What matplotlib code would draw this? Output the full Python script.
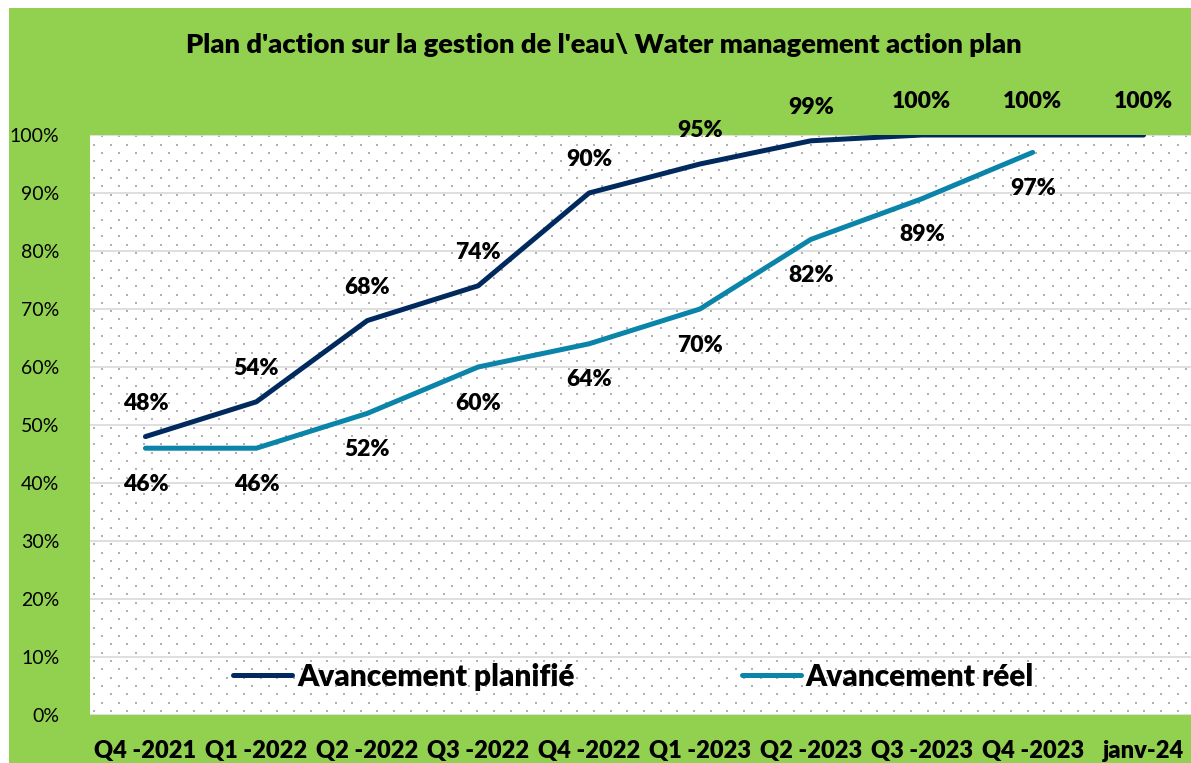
import numpy as np
import matplotlib
matplotlib.use('Agg')
import matplotlib.pyplot as plt
from matplotlib.patches import Rectangle

# -----------------------------
# Data
# -----------------------------
periods = ["Q4 -2021", "Q1 -2022", "Q2 -2022", "Q3 -2022", "Q4 -2022",
           "Q1 -2023", "Q2 -2023", "Q3 -2023", "Q4 -2023", "janv-24"]
planned = [48, 54, 68, 74, 90, 95, 99, 100, 100, 100]
actual = [46, 46, 52, 60, 64, 70, 82, 89, 97]

title = "Plan d'action sur la gestion de l'eau\\ Water management action plan"
name_planned = "Avancement planifié"
name_actual = "Avancement réel"

green = '#92D050'
navy = '#002A5E'
teal = '#0A84A8'
BOLD = 'heavy'

plt.rcParams['font.family'] = ['Lato', 'DejaVu Sans']

W, H = 1191, 763
fig = plt.figure(figsize=(W / 100, H / 100), dpi=100)
fig.patch.set_facecolor('white')
# green chart area
fig.patches.append(Rectangle((9 / W, 0), 1, 1 - 8 / H, transform=fig.transFigure,
                             facecolor=green, edgecolor='none', zorder=-10))

# plot area (right side is cut by the image edge)
left, right, top, bottom = 90, 1199, 135, 715
ax = fig.add_axes([left / W, 1 - bottom / H, (right - left) / W, (bottom - top) / H])
ax.set_facecolor('white')
for s in ax.spines.values():
    s.set_visible(False)

# dotted pattern fill of the plot area
pw, ph = right - left, bottom - top
rows = np.arange(4, ph, 8.33)
pts_x, pts_y = [], []
for k, yy in enumerate(rows):
    xs = np.arange(4 + (8.33 if k % 2 else 0), pw, 16.67)
    pts_x.extend(xs / pw)
    pts_y.extend(np.full(len(xs), yy / ph))
ax.scatter(pts_x, pts_y, s=1.2, marker='s', color='#B0B0B0', linewidths=0,
           transform=ax.transAxes, zorder=0.5)

x = np.arange(len(periods))
ax.plot(x, planned, color=navy, lw=3.6, solid_capstyle='round',
        solid_joinstyle='round', label=name_planned, zorder=3)
ax.plot(x[:len(actual)], actual, color=teal, lw=3.6, solid_capstyle='round',
        solid_joinstyle='round', label=name_actual, zorder=3)

for xi, v in zip(x, planned):
    ax.annotate(f"{v}%", (xi, v), xytext=(0, 24), textcoords='offset points',
                ha='center', va='center', fontsize=16.5, fontweight=BOLD,
                color='black', annotation_clip=False, zorder=4)
for xi, v in zip(x, actual):
    ax.annotate(f"{v}%", (xi, v), xytext=(0, -26), textcoords='offset points',
                ha='center', va='center', fontsize=16.5, fontweight=BOLD,
                color='black', annotation_clip=False, zorder=4)

ax.set_xlim(-0.5, 9.5)
ax.set_ylim(0, 100)
ax.set_yticks(np.arange(0, 101, 10))
ax.set_yticklabels([f"{v}%" for v in range(0, 101, 10)], fontsize=14)
ax.set_xticks(x)
ax.set_xticklabels(periods, fontsize=17, fontweight=BOLD)
ax.tick_params(axis='both', length=0)
ax.tick_params(axis='y', pad=22)
ax.tick_params(axis='x', pad=18)
ax.grid(axis='y', color='#D9D9D9', lw=1.2, zorder=1)
ax.set_axisbelow(True)

leg = ax.legend(loc='center', bbox_to_anchor=(0.49, 0.066), ncol=2, frameon=False,
                prop={'size': 21.5, 'weight': BOLD}, handlelength=2.0,
                handletextpad=0.15, columnspacing=5.6)
for line in leg.get_lines():
    line.set_linewidth(3.6)
    line.set_solid_capstyle('round')

fig.text(604 / W, 1 - 45 / H, title, ha='center', va='center', fontsize=19.7,
         fontweight=BOLD)

fig.savefig("out.png", dpi=100, facecolor=fig.get_facecolor())
